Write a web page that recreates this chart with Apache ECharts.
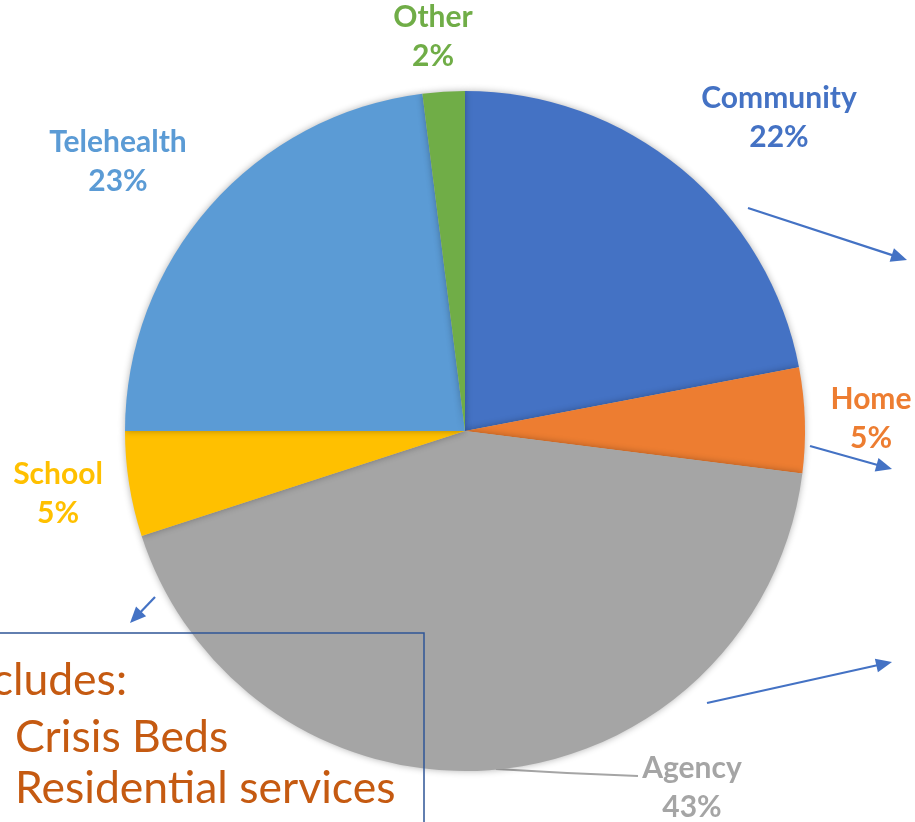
<!DOCTYPE html>
<html><head><meta charset="utf-8">
<script src="https://cdn.jsdelivr.net/npm/echarts@6/dist/echarts.min.js"></script>
<style>html,body{margin:0;padding:0;background:#fff;overflow:hidden}#c{width:915px;height:822px}</style>
</head><body><div id="c"></div>
<script>
// Data
const categories = ['Community', 'Home', 'Agency', 'School', 'Telehealth', 'Other'];
const values = [22, 5, 43, 5, 23, 2];
const colors = ['#4472C4', '#ED7D31', '#A5A5A5', '#FFC000', '#5B9BD5', '#70AD47'];
const noteLines = ['Includes:', 'Crisis Beds', 'Residential services'];

// Layout (label placement, annotations)
const labelCenters = [[779, 118], [871, 419], [692, 788], [58, 494], [118, 162], [433, 37]];
const agencyLeader = [[496, 769], [567, 773], [638, 776]];
const arrows = [[748, 208, 907, 260], [810, 446, 892, 469], [707, 703, 892, 662], [155, 597, 130, 623]];

function arrow(a) {
  const [x1, y1, x2, y2] = a;
  const dx = x2 - x1, dy = y2 - y1, L = Math.hypot(dx, dy);
  const ux = dx / L, uy = dy / L, px = -uy, py = ux;
  const hl = 16, hw = 7;
  const bx = x2 - ux * hl, by = y2 - uy * hl;
  return [
    { type: 'line', z: 100, shape: { x1, y1, x2: bx + ux * 2, y2: by + uy * 2 }, style: { stroke: '#4472C4', lineWidth: 2.2 } },
    { type: 'polygon', z: 100, shape: { points: [[x2, y2], [bx + px * hw, by + py * hw], [bx - px * hw, by - py * hw]] }, style: { fill: '#4472C4' } }
  ];
}

const chart = echarts.init(document.getElementById('c'), null, { renderer: 'canvas' });
const graphics = [];
arrows.forEach(a => graphics.push(...arrow(a)));
graphics.push({ type: 'rect', z: 100, shape: { x: -20, y: 633, width: 444, height: 300 }, style: { fill: 'none', stroke: '#2F5597', lineWidth: 1.5 } });
const noteFont = '44.5px Lato';
graphics.push({ type: 'text', z: 101, x: 127, y: 703, style: { text: noteLines[0], font: noteFont, fill: '#C55A11', align: 'right', verticalAlign: 'bottom' } });
graphics.push({ type: 'text', z: 101, x: 15, y: 760, style: { text: noteLines[1], font: noteFont, fill: '#C55A11', align: 'left', verticalAlign: 'bottom' } });
graphics.push({ type: 'text', z: 101, x: 15, y: 811, style: { text: noteLines[2], font: noteFont, fill: '#C55A11', align: 'left', verticalAlign: 'bottom' } });

chart.setOption({
  backgroundColor: '#ffffff',
  animation: false,
  graphic: graphics,
  series: [{
    type: 'pie',
    center: [465, 431],
    radius: 340,
    startAngle: 90,
    clockwise: true,
    avoidLabelOverlap: false,
    emphasis: { disabled: true },
    itemStyle: { borderWidth: 0, shadowBlur: 7, shadowColor: 'rgba(0,0,0,0.3)' },
    label: {
      show: true,
      position: 'outside',
      fontFamily: 'Lato',
      fontWeight: 'bold',
      fontSize: 30,
      lineHeight: 39,
      align: 'center',
      formatter: p => p.name + '\n' + p.value + '%'
    },
    labelLine: { show: false },
    labelLayout: function (params) {
      const i = params.dataIndex;
      const o = { x: labelCenters[i][0], y: labelCenters[i][1], align: 'center', verticalAlign: 'middle' };
      if (i === 2) o.labelLinePoints = agencyLeader;
      return o;
    },
    data: categories.map((c, i) => ({
      name: c,
      value: values[i],
      itemStyle: { color: colors[i] },
      label: { color: colors[i] },
      labelLine: i === 2 ? { show: true, lineStyle: { color: '#A5A5A5', width: 2 }, length: 10, length2: 10 } : { show: false }
    }))
  }]
});
</script>
</body></html>
